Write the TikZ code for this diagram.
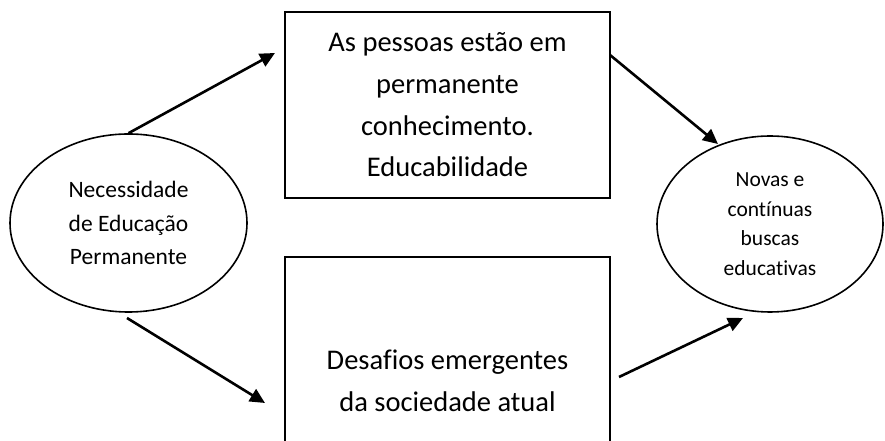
\documentclass[tikz,border=0pt]{standalone}
\usepackage{fontspec}
\setmainfont{Carlito}[Ligatures={CommonOff,ContextualOff}]
\usetikzlibrary{shapes.geometric,arrows.meta}
\tikzset{
  boxline/.style={draw=black, line width=2pt},
  ellbox/.style={ellipse, draw=black, line width=1.6pt, inner sep=0pt, align=center},
  bigtxt/.style={align=center, font=\fontsize{28.5}{41.7}\selectfont, inner sep=0pt},
  conn/.style={line width=2.6pt, -{Triangle[length=15pt,width=14pt]}}
}
\begin{document}
\begin{tikzpicture}[x=1pt,y=1pt]
\useasboundingbox (0,0) rectangle (885,441);
% left ellipse
\node[ellbox, minimum width=237pt, minimum height=178pt,
      font=\fontsize{23.5}{33.5}\selectfont] (L) at (128.5,218)
  {Necessidade\\de Educação\\Permanente};
% right ellipse
\node[ellbox, minimum width=226pt, minimum height=176pt,
      font=\fontsize{21.5}{29.5}\selectfont] (R) at (770,217)
  {Novas e\\contínuas\\buscas\\educativas};
% top box
\node[boxline, bigtxt, minimum width=325pt, minimum height=186pt] (T) at (447.5,336)
  {As pessoas estão em\\permanente\\conhecimento.\\Educabilidade};
% bottom box (open at the bottom edge of the picture)
\node[bigtxt] (B) at (447.5,60) {Desafios emergentes\\da sociedade atual};
\coordinate (bsw) at (285,-2);
\coordinate (bnw) at (285,184);
\coordinate (bne) at (610,184);
\coordinate (bse) at (610,-2);
\draw[boxline] (bsw) -- (bnw) -- (bne) -- (bse);
% arrow end points
\coordinate (a1e) at (275,388);
\coordinate (a2s) at (127,123);
\coordinate (a2e) at (265,38);
\coordinate (a3s) at (610,386);
\coordinate (a3e) at (718,297);
\coordinate (a4s) at (619,64);
\coordinate (a4e) at (743,123);
\draw[conn] (L.north) -- (a1e);
\draw[conn] (a2s) -- (a2e);
\draw[conn] (a3s) -- (a3e);
\draw[conn] (a4s) -- (a4e);
\end{tikzpicture}
\end{document}
